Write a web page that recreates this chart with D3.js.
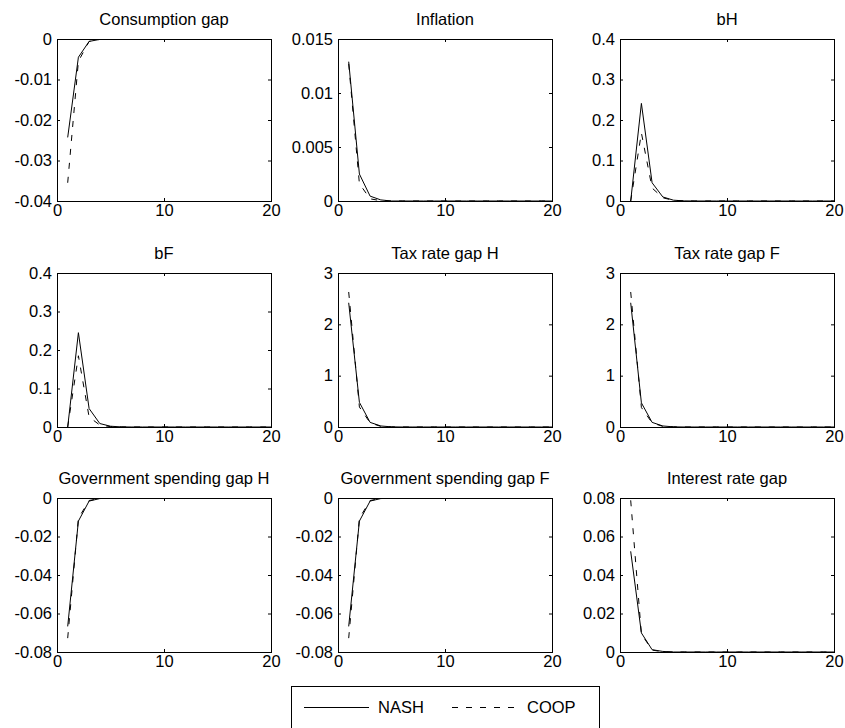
<!DOCTYPE html>
<html>
<head>
<meta charset="utf-8">
<script src="https://cdn.jsdelivr.net/npm/d3@7"></script>
<style>
  html, body { margin: 0; padding: 0; background: #fff; }
  svg { display: block; font-family: "Liberation Sans", Arial, Helvetica, sans-serif; }
</style>
</head>
<body>
<svg id="chart" width="845" height="728"></svg>
<script>
// ---------------- DATA ----------------
const periods = d3.range(1, 21);
const xTicks = [0, 10, 20];

const titles = ["Consumption gap", "Inflation", "bH", "bF", "Tax rate gap H", "Tax rate gap F",
                "Government spending gap H", "Government spending gap F", "Interest rate gap"];

const nashConsumption = [-0.0243, -0.0045, -0.0006, -0.0001, 0, 0, 0, 0, 0, 0, 0, 0, 0, 0, 0, 0, 0, 0, 0, 0];
const coopConsumption = [-0.0355, -0.0055, -0.0006, -0.0001, 0, 0, 0, 0, 0, 0, 0, 0, 0, 0, 0, 0, 0, 0, 0, 0];
const nashInflation   = [0.0129, 0.0025, 0.00045, 0.0001, 0, 0, 0, 0, 0, 0, 0, 0, 0, 0, 0, 0, 0, 0, 0, 0];
const coopInflation   = [0.0127, 0.0016, 0.0002, 0.00003, 0, 0, 0, 0, 0, 0, 0, 0, 0, 0, 0, 0, 0, 0, 0, 0];
const nashBH          = [0, 0.241, 0.045, 0.010, 0.002, 0.0003, 0, 0, 0, 0, 0, 0, 0, 0, 0, 0, 0, 0, 0, 0];
const coopBH          = [0, 0.168, 0.032, 0.008, 0.0015, 0.0002, 0, 0, 0, 0, 0, 0, 0, 0, 0, 0, 0, 0, 0, 0];
const nashBF          = [0, 0.245, 0.048, 0.009, 0.002, 0.0003, 0, 0, 0, 0, 0, 0, 0, 0, 0, 0, 0, 0, 0, 0];
const coopBF          = [0, 0.185, 0.026, 0.005, 0.001, 0.0002, 0, 0, 0, 0, 0, 0, 0, 0, 0, 0, 0, 0, 0, 0];
const nashTaxH        = [2.42, 0.48, 0.09, 0.02, 0.003, 0, 0, 0, 0, 0, 0, 0, 0, 0, 0, 0, 0, 0, 0, 0];
const coopTaxH        = [2.63, 0.39, 0.08, 0.012, 0.002, 0, 0, 0, 0, 0, 0, 0, 0, 0, 0, 0, 0, 0, 0, 0];
const nashTaxF        = [2.42, 0.47, 0.09, 0.02, 0.003, 0, 0, 0, 0, 0, 0, 0, 0, 0, 0, 0, 0, 0, 0, 0];
const coopTaxF        = [2.63, 0.38, 0.08, 0.012, 0.002, 0, 0, 0, 0, 0, 0, 0, 0, 0, 0, 0, 0, 0, 0, 0];
const nashGovH        = [-0.0667, -0.012, -0.0016, -0.0003, 0, 0, 0, 0, 0, 0, 0, 0, 0, 0, 0, 0, 0, 0, 0, 0];
const coopGovH        = [-0.0728, -0.0105, -0.0013, -0.0002, 0, 0, 0, 0, 0, 0, 0, 0, 0, 0, 0, 0, 0, 0, 0, 0];
const nashGovF        = [-0.0667, -0.012, -0.0016, -0.0003, 0, 0, 0, 0, 0, 0, 0, 0, 0, 0, 0, 0, 0, 0, 0, 0];
const coopGovF        = [-0.0728, -0.0105, -0.0013, -0.0002, 0, 0, 0, 0, 0, 0, 0, 0, 0, 0, 0, 0, 0, 0, 0, 0];
const nashInterest    = [0.0523, 0.0099, 0.0012, 0.0003, 0, 0, 0, 0, 0, 0, 0, 0, 0, 0, 0, 0, 0, 0, 0, 0];
const coopInterest    = [0.0788, 0.0093, 0.0010, 0.0001, 0, 0, 0, 0, 0, 0, 0, 0, 0, 0, 0, 0, 0, 0, 0, 0];

const yTicksConsumption = [-0.04, -0.03, -0.02, -0.01, 0];
const yTicksInflation   = [0, 0.005, 0.01, 0.015];
const yTicksDebt        = [0, 0.1, 0.2, 0.3, 0.4];
const yTicksTax         = [0, 1, 2, 3];
const yTicksGov         = [-0.08, -0.06, -0.04, -0.02, 0];
const yTicksInterest    = [0, 0.02, 0.04, 0.06, 0.08];

const seriesNames = ["NASH", "COOP"];

// ---------------- LAYOUT ----------------
const colLeft = [57, 338, 620];
const colWidth = 214;
const rowTop = [39, 273, 498];
const rowHeight = [162, 154, 154];
const fontSize = 16.5;
const tickLen = 3;
const dash = "6,8";

const panels = [
  { nash: nashConsumption, coop: coopConsumption, ticks: yTicksConsumption },
  { nash: nashInflation,   coop: coopInflation,   ticks: yTicksInflation },
  { nash: nashBH,          coop: coopBH,          ticks: yTicksDebt },
  { nash: nashBF,          coop: coopBF,          ticks: yTicksDebt },
  { nash: nashTaxH,        coop: coopTaxH,        ticks: yTicksTax },
  { nash: nashTaxF,        coop: coopTaxF,        ticks: yTicksTax },
  { nash: nashGovH,        coop: coopGovH,        ticks: yTicksGov },
  { nash: nashGovF,        coop: coopGovF,        ticks: yTicksGov },
  { nash: nashInterest,    coop: coopInterest,    ticks: yTicksInterest }
];

const svg = d3.select("#chart");
const fmt = v => String(+v.toFixed(6));

panels.forEach((p, i) => {
  const r = Math.floor(i / 3), c = i % 3;
  const W = colWidth, H = rowHeight[r];
  const g = svg.append("g").attr("transform", `translate(${colLeft[c]},${rowTop[r]})`);
  const x = d3.scaleLinear().domain([0, 20]).range([0, W]);
  const y = d3.scaleLinear().domain(d3.extent(p.ticks)).range([H, 0]);

  const clipId = "clip" + i;
  g.append("clipPath").attr("id", clipId).append("rect").attr("width", W).attr("height", H);

  const line = d3.line().x((d, k) => x(periods[k])).y(d => y(d));
  const plot = g.append("g").attr("clip-path", `url(#${clipId})`);
  plot.append("path").datum(p.nash).attr("d", line)
    .attr("fill", "none").attr("stroke", "#000").attr("stroke-width", 1);
  plot.append("path").datum(p.coop).attr("d", line)
    .attr("fill", "none").attr("stroke", "#000").attr("stroke-width", 1)
    .attr("stroke-dasharray", dash);

  // axes (MATLAB style: inward ticks, mirrored)
  const axStyle = sel => {
    sel.select(".domain").remove();
    sel.selectAll("line").attr("stroke", "#000");
    sel.selectAll("text").attr("font-size", fontSize).attr("fill", "#000")
      .attr("font-family", '"Liberation Sans", Arial, Helvetica, sans-serif');
  };
  g.append("g").attr("transform", `translate(0,${H})`)
    .call(d3.axisBottom(x).tickValues(xTicks).tickSizeInner(-tickLen).tickSizeOuter(0).tickPadding(3).tickFormat(fmt))
    .call(axStyle);
  g.append("g")
    .call(d3.axisTop(x).tickValues(xTicks).tickSizeInner(-tickLen).tickSizeOuter(0).tickFormat(""))
    .call(axStyle);
  g.append("g")
    .call(d3.axisLeft(y).tickValues(p.ticks).tickSizeInner(-tickLen).tickSizeOuter(0).tickPadding(5).tickFormat(fmt))
    .call(axStyle);
  g.append("g").attr("transform", `translate(${W},0)`)
    .call(d3.axisRight(y).tickValues(p.ticks).tickSizeInner(-tickLen).tickSizeOuter(0).tickFormat(""))
    .call(axStyle);

  g.append("rect").attr("x", 0.5).attr("y", 0.5).attr("width", W).attr("height", H)
    .attr("fill", "none").attr("stroke", "#000").attr("stroke-width", 1);

  g.append("text").attr("x", W / 2).attr("y", -14).attr("text-anchor", "middle")
    .attr("font-size", fontSize).attr("fill", "#000").text(titles[i]);
});

// ---------------- LEGEND ----------------
const lg = svg.append("g");
lg.append("rect").attr("x", 291.5).attr("y", 686.5).attr("width", 308).attr("height", 44)
  .attr("fill", "#fff").attr("stroke", "#000").attr("stroke-width", 1);
const legendY = 707.5;
const legendItems = [
  { name: seriesNames[0], x0: 304, x1: 369, tx: 378, dash: null },
  { name: seriesNames[1], x0: 452, x1: 518, tx: 527, dash: dash }
];
legendItems.forEach(it => {
  lg.append("line").attr("x1", it.x0).attr("x2", it.x1).attr("y1", legendY).attr("y2", legendY)
    .attr("stroke", "#000").attr("stroke-width", 1).attr("stroke-dasharray", it.dash);
  lg.append("text").attr("x", it.tx).attr("y", legendY).attr("dy", "0.36em")
    .attr("font-size", fontSize).attr("fill", "#000").text(it.name);
});
</script>
</body>
</html>
